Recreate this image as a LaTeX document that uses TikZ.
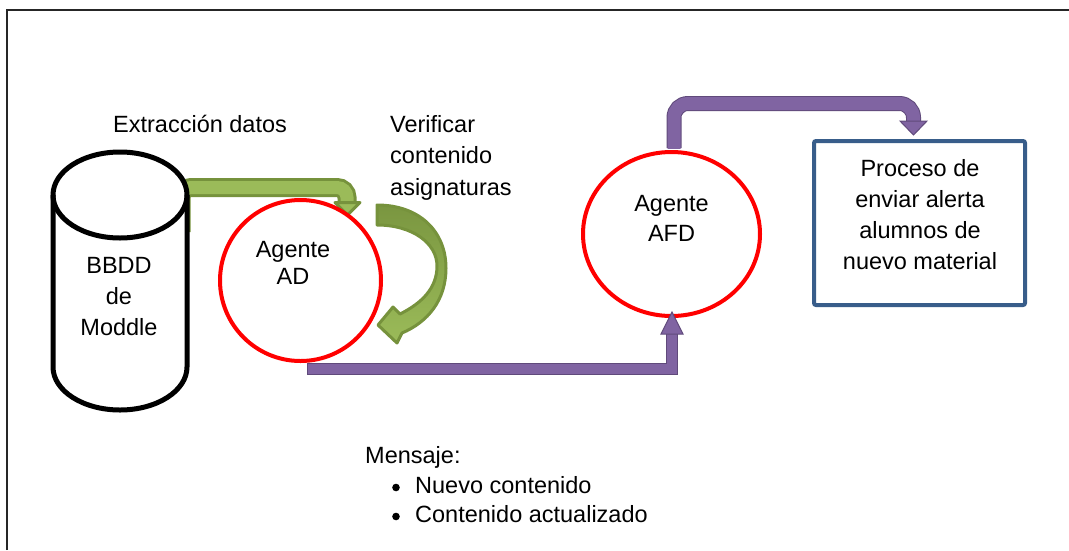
\documentclass[tikz,border=0pt]{standalone}
\usepackage{fontspec}
\setmainfont{Liberation Sans}
\usetikzlibrary{shapes.geometric}
\definecolor{agred}{RGB}{255,0,0}
\definecolor{purfill}{RGB}{128,100,162}
\definecolor{purline}{RGB}{96,74,123}
\definecolor{grfill}{RGB}{155,187,89}
\definecolor{grline}{RGB}{118,146,60}
\definecolor{grdark}{RGB}{122,150,64}
\definecolor{boxblue}{RGB}{56,93,138}
\begin{document}
\begin{tikzpicture}[x=1pt,y=-1pt,
  txt/.style={font=\fontsize{23.5}{31}\selectfont, inner sep=0pt, text=black},
  agent/.style={ellipse, draw=agred, line width=4pt, inner sep=0pt},
  procbox/.style={draw=boxblue, line width=4pt, rounded corners=2pt, inner sep=0pt},
  purband/.style={line width=15pt, draw=purline},
  purcore/.style={line width=13pt, draw=purfill},
  purhead/.style={fill=purfill, draw=purline, line width=1pt, line join=miter},
  grband/.style={line width=19pt, draw=grline},
  grcore/.style={line width=13pt, draw=grfill},
  grhead/.style={fill=grfill, draw=grline, line width=3pt, line join=round}]
\useasboundingbox (0,0) rectangle (1069,550);
% frame
\draw[line width=1.5pt, black!85] (7,550) -- (7,10) -- (1069,10);

% green bent arrow: BBDD -> Agente AD
\coordinate (gstart) at (181,232);
\coordinate (gturn) at (347,187.5);
\coordinate (gend) at (347,203);
\draw[grband, rounded corners=10pt] (gstart) |- (gturn) -- (gend);
\draw[grcore, rounded corners=10pt] (gstart) |- (gturn) -- (gend);
\path[grhead] (335,202.5) -- (360,202.5) -- (347.5,215) -- cycle;

% cylinder BBDD
\path[fill=white, draw=black, line width=5pt, line join=round]
  (53,195) -- (53,367) arc[start angle=180, end angle=360, x radius=67pt, y radius=43pt]
  -- (187,195) arc[start angle=0, end angle=180, x radius=67pt, y radius=43pt] -- cycle;
\draw[black, line width=5pt] (187,195) arc[start angle=0, end angle=-180, x radius=67pt, y radius=43pt];
\node[txt, align=center] (bbdd) at (119,297) {BBDD\\de\\Moddle};

% agents
\node[agent, minimum width=161pt, minimum height=161pt] (ad) at (300.5,280.5) {};
\node[txt, align=center, font=\fontsize{23.5}{27}\selectfont] (adtext) at (293,263) {Agente\\AD};
\node[agent, minimum width=177pt, minimum height=164pt] (afd) at (671.5,234) {};
\node[txt, align=center, font=\fontsize{23.5}{30}\selectfont] (afdtext) at (671.5,218.5) {Agente\\AFD};

% curved self arrow (verificar)
\path[draw=grline, line width=3pt, line join=round, top color=grdark, bottom color=grfill]
  (377,205) .. controls (420,205) and (446,232) .. (446,268)
  .. controls (446,300) and (428,322) .. (402,333)
  -- (397,343) -- (378,325) -- (393,307) -- (400,314)
  .. controls (422,303) and (437,288) .. (437,266)
  .. controls (437,243) and (412,225) .. (377,225) -- cycle;

% process box
\node[procbox, minimum width=211pt, minimum height=164pt] (proc) at (919.5,223) {};
\node[txt, align=center] (proctext) at (920,215) {Proceso de\\enviar alerta\\alumnos de\\nuevo material};

% purple arrow AD -> AFD
\coordinate (pstart) at (307,369);
\coordinate (pend) at (672,334);
\draw[line width=11.5pt, draw=purline, line join=miter] (pstart) -| (pend);
\draw[line width=9.5pt, draw=purfill, line join=miter] ([xshift=0.8pt]pstart) -| ([yshift=0.8pt]pend);
\path[purhead] (661,334) -- (683,334) -- (672,312) -- cycle;

% purple arrow AFD -> process
\coordinate (qstart) at (674,148);
\coordinate (qturn) at (913.5,103.5);
\coordinate (qend) at (913.5,121);
\draw[purband, rounded corners=14pt] (qstart) |- (qturn) -- (qend);
\draw[purcore, rounded corners=14pt] ([yshift=-0.8pt]qstart) |- (qturn) -- (qend);
\path[purhead] (900,121) -- (927,121) -- (913.5,135) -- cycle;

% labels
\node[txt, anchor=base west] (extr) at (113,132) {Extracción datos};
\node[txt, anchor=west, align=left, font=\fontsize{23.5}{31.5}\selectfont] (verif) at (390,157.5) {Verificar\\contenido\\asignaturas};
\node[txt, anchor=base west] (msg) at (365,463) {Mensaje:};
\node[txt, anchor=base west] (item1) at (415,493) {Nuevo contenido};
\node[txt, anchor=base west] (item2) at (415,522) {Contenido actualizado};
\fill[black] (396,487.5) circle[radius=3.8pt];
\fill[black] (396,516.5) circle[radius=3.8pt];
\end{tikzpicture}
\end{document}
